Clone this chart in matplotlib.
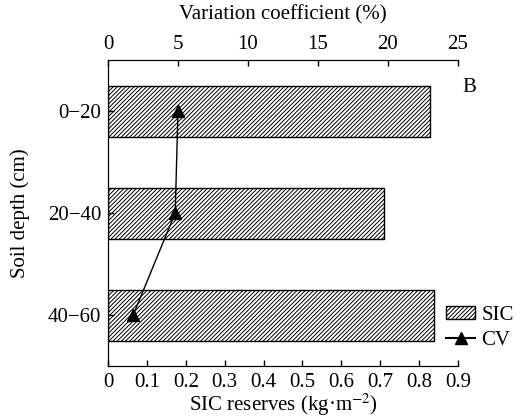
import matplotlib
matplotlib.use("Agg")
import matplotlib.pyplot as plt
from matplotlib.patches import Patch
from matplotlib.lines import Line2D

# data
depths = ["0−20", "20−40", "40−60"]
sic = [0.828, 0.71, 0.838]
cv = [5.0, 4.8, 1.8]

plt.rcParams['font.family'] = ['Liberation Serif', 'DejaVu Serif']
plt.rcParams['mathtext.fontset'] = 'stix'
plt.rcParams['font.size'] = 15
plt.rcParams['hatch.linewidth'] = 0.7

fig = plt.figure(figsize=(5.17, 4.18), dpi=100)
ax = fig.add_axes([108/517, 1 - 366/418, 350/517, 306/418])

ypos = list(range(len(depths)))
ax.barh(ypos, sic, height=0.5, color='white', edgecolor='black',
        hatch='////////', linewidth=1.0)
ax.set_ylim(2.5, -0.5)
ax.set_xlim(0, 0.9)
ax.set_xticks([0, 0.1, 0.2, 0.3, 0.4, 0.5, 0.6, 0.7, 0.8, 0.9])
ax.set_xticklabels(["0", "0.1", "0.2", "0.3", "0.4", "0.5", "0.6", "0.7", "0.8", "0.9"])
ax.set_yticks(ypos)
ax.set_yticklabels(depths)
ax.tick_params(direction='in', length=4, width=1, pad=5)
ax.set_xlabel("SIC reserves (kg·m$^{-2}$)", va='center')
ax.xaxis.set_label_coords(0.5, -0.127)
ax.set_ylabel("Soil depth (cm)", va='center')
ax.yaxis.set_label_coords(-0.25, 0.5)
ax.spines['right'].set_visible(False)

ax2 = ax.twiny()
ax2.plot(cv, ypos, color='black', linewidth=1.0, marker='^', markersize=8)
ax2.set_xlim(0, 25)
ax2.set_xticks([0, 5, 10, 15, 20, 25])
ax2.tick_params(direction='in', length=4, width=1, pad=4)
ax2.set_xlabel("Variation coefficient (%)", va='center')
ax2.xaxis.set_label_coords(0.5, 1.147)
ax2.spines['right'].set_visible(False)

fig.text(462/517, 1 - 88/418, "B", fontsize=15, va='center', ha='left')

handles = [Patch(facecolor='white', edgecolor='black', hatch='////////', label='SIC'),
           Line2D([], [], color='black', marker='^', markersize=8, label='CV')]
fig.legend(handles=handles, loc='upper left', bbox_to_anchor=(446/517, 1 - 306/418),
           frameon=False, handlelength=1.4, handleheight=0.6, handletextpad=0.3,
           labelspacing=0.3, borderpad=0, borderaxespad=0)

fig.savefig("out.png", dpi=100)
